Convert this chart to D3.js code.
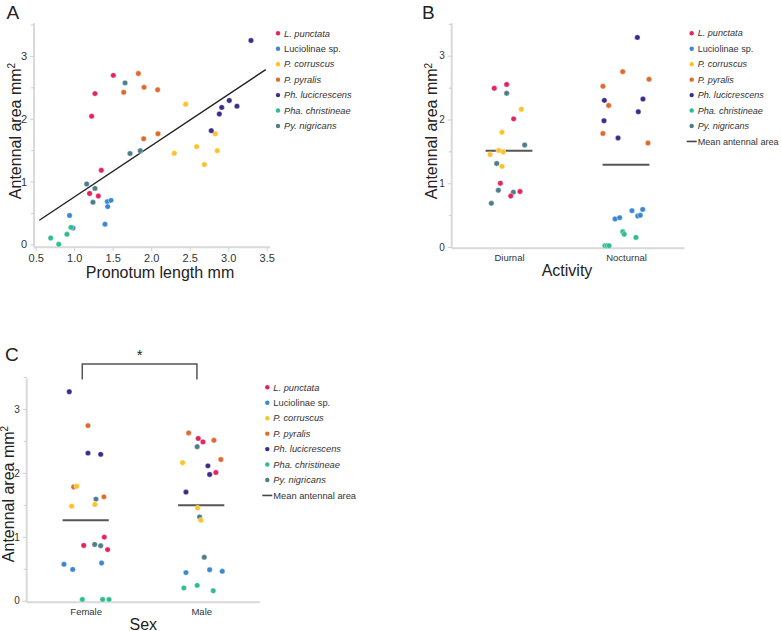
<!DOCTYPE html>
<html><head><meta charset="utf-8">
<script src="https://cdn.jsdelivr.net/npm/d3@7"></script>
<style>
body{margin:0;background:#fff;}
svg{display:block;font-family:"Liberation Sans",Arial,Helvetica,sans-serif;}
</style></head>
<body>
<svg id="chart" width="781" height="631"></svg>
<script>
// ---------- data ----------
const speciesNames = ["L. punctata","Luciolinae sp.","P. corruscus","P. pyralis","Ph. lucicrescens","Pha. christineae","Py. nigricans"];
const speciesItalic = [true,false,true,true,true,true,true];
const speciesColors = ["#e3245e","#3b88d0","#fdc12a","#e06a2e","#3c2b8c","#2ebd93","#4d7d8d"];
const meanLabel = "Mean antennal area";

// Panel A: pronotum length vs antennal area
const aSpecies  = [0,0,0,0,0,0, 1,1,1,1,1,1, 5,5,5,5, 3,3,3,3,3,3, 6,6,6,6,6,6, 2,2,2,2,2,2, 4,4,4,4,4,4];
const aPronotum = [1.508,1.27,1.227,1.352,1.20,1.313, 0.94,0.984,1.40,1.43,1.478,1.435, 0.695,0.80,0.906,0.958,
                   1.833,1.907,1.643,2.084,1.902,2.088, 1.66,1.725,1.858,1.162,1.27,1.244,
                   2.448,2.30,2.59,2.69,2.832,2.858, 3.296,2.78,2.885,2.916,3.014,3.114];
const aArea     = [2.69,2.40,2.04,1.18,0.81,0.77, 0.46,0.26,0.32,0.68,0.70,0.60, 0.10,0.0,0.16,0.27,
                   2.72,2.50,2.42,2.46,1.68,1.76, 2.57,1.445,1.49,0.96,0.89,0.67,
                   2.23,1.45,1.556,1.27,1.76,1.49, 3.245,1.81,2.076,2.18,2.29,2.20];
const aFitX = [0.547, 3.487];
const aFitSlope = 0.816, aFitIntercept = -0.064;
const aXTicks = [0.5,1.0,1.5,2.0,2.5,3.0,3.5];

// Panel B: activity
const bCategories = ["Diurnal","Nocturnal"];
const bGroup   = [0,0,0,0,0,0,0,0,0,0,0,0,0,0,0,0,0,0,
                  1,1,1,1,1,1,1,1,1,1,1,1, 1,1,1,1,1,1, 1,1,1,1,1,1];
const bSpecies = [0,0,6,2,0,2,6,2,2,2,6,2,0,6,6,0,0,6,
                  4,3,3,3,4,4,3,4,4,3,4,3, 1,1,1,1,1,1, 5,5,5,5,5,5];
const bArea    = [2.49,2.55,2.41,2.16,2.01,1.80,1.60,1.515,1.49,1.45,1.31,1.265,1.00,0.89,0.86,0.87,0.80,0.685,
                  3.287,2.75,2.63,2.52,2.30,2.32,2.22,2.12,1.98,1.78,1.71,1.63, 0.44,0.46,0.57,0.486,0.497,0.59, 0.24,0.20,0.15,0.02,0.02,0.02];
const bJitter  = [-0.126,-0.020,-0.020,0.105,0.040,-0.060,0.134,-0.088,-0.049,-0.162,-0.105,-0.060,-0.074,-0.091,0.037,0.094,0.015,-0.151,
                  0.097,-0.028,0.197,-0.197,-0.185,0.145,-0.148,0.105,-0.188,-0.197,-0.068,0.188, -0.094,-0.054,0.051,0.10,0.122,0.143, -0.028,-0.015,0.085,-0.18,-0.162,-0.145];
const bMeans   = [1.51, 1.29];

// Panel C: sex
const cCategories = ["Female","Male"];
const cGroup   = [0,0,0,0,0,0,0,0,0,0,0,0,0,0,0,0,0,0,0,0,0,
                  1,1,1,1,1,1,1,1,1,1,1,1,1,1,1,1,1,1,1,1,1];
const cSpecies = [4,3,4,4,3,2,6,3,2,2,0,0,6,6,0,1,1,1,5,5,5,
                  3,0,0,3,6,3,2,4,4,0,4,2,6,2,6,1,1,1,5,5,5];
const cArea    = [3.27,2.74,2.31,2.29,1.78,1.79,1.59,1.625,1.48,1.506,0.995,0.865,0.88,0.86,0.80,0.57,0.49,0.59,0.02,0.02,0.02,
                  2.625,2.54,2.485,2.51,2.41,2.21,2.16,2.11,1.975,2.006,1.70,1.45,1.31,1.26,0.68,0.44,0.485,0.46,0.20,0.24,0.155];
const cJitter  = [-0.142,0.020,0.020,0.130,-0.104,-0.078,0.089,0.158,-0.121,0.080,0.161,-0.017,0.078,0.130,0.190,-0.188,-0.112,0.138,-0.029,0.147,0.202,
                  -0.109,-0.026,0.015,0.110,-0.035,0.170,-0.161,0.058,0.073,0.127,-0.132,-0.031,-0.014,-0.003,0.026,-0.132,0.073,0.182,-0.150,-0.035,0.104];
const cMeans   = [1.26, 1.495];
const cSignif  = "*";

const yTicks = [0,0.5,1,1.5,2,2.5,3,3.5];
const yLabelMain = "Antennal area mm", yLabelSup = "2";

// ---------- drawing ----------
const svg = d3.select("#chart");
const AXIS_COL = "#d9d9d9", TEXT_COL = "#333";
const R = 2.7;

function styleAxis(g, fontSize){
  g.select(".domain").attr("stroke", AXIS_COL).attr("stroke-width", 2);
  g.selectAll(".tick line").attr("stroke", "#cfcfcf").attr("stroke-width", 1);
  g.selectAll(".tick text").attr("fill", TEXT_COL).style("font-size", fontSize+"px").attr("font-family","Liberation Sans, Arial, sans-serif");
}
function yAxis(g, y, fontSize){
  g.call(d3.axisLeft(y).tickValues(yTicks.filter(v=>v<=3.5)).tickSize(4).tickPadding(3).tickSizeOuter(0)
    .tickFormat(d => Number.isInteger(d) ? d3.format("d")(d) : ""));
  g.selectAll(".tick").filter(d => !Number.isInteger(d)).select("line").attr("x2",-3);
  styleAxis(g, fontSize);
}
function yTitle(x, yc){
  const t = svg.append("text").attr("transform",`translate(${x},${yc}) rotate(-90)`)
    .attr("text-anchor","middle").attr("dy","0.35em").attr("fill","#222").style("font-size","16px");
  t.append("tspan").text(yLabelMain);
  t.append("tspan").attr("dy","-0.55em").style("font-size","10px").text(yLabelSup);
}
function panelLetter(txt, x, y){
  svg.append("text").attr("x",x).attr("y",y).attr("fill","#222").style("font-size","19px").text(txt);
}
function legend(x0, y0, withMean, fs){
  const g = svg.append("g");
  const step = 15.45;
  speciesNames.forEach((n,i)=>{
    g.append("circle").attr("cx",x0).attr("cy",y0+i*step).attr("r",2.2).attr("fill",speciesColors[i]);
    g.append("text").attr("x",x0+6).attr("y",y0+i*step).attr("dy","0.35em")
      .attr("fill",TEXT_COL).style("font-size",fs+"px").style("font-style", speciesItalic[i]?"italic":"normal").text(n);
  });
  if(withMean){
    const yy = y0+7*step;
    g.append("line").attr("x1",x0-5).attr("x2",x0+5).attr("y1",yy).attr("y2",yy).attr("stroke","#444").attr("stroke-width",1.6);
    g.append("text").attr("x",x0+6).attr("y",yy).attr("dy","0.35em").attr("fill",TEXT_COL).style("font-size",fs+"px").text(meanLabel);
  }
}
function dots(g, xs, ys, sp){
  g.selectAll("circle").data(xs.map((x,i)=>({x, y:ys[i], s:sp[i]}))).join("circle")
    .attr("cx",d=>d.x).attr("cy",d=>d.y).attr("r",R).attr("fill",d=>speciesColors[d.s])
    .attr("stroke","#fff").attr("stroke-opacity",0.6).attr("stroke-width",0.6);
}

// ----- Panel A -----
{
  const x = d3.scaleLinear().domain([0.5,3.5]).range([35.7,266.7]);
  const y = d3.scaleLinear().domain([0,3]).range([244.3,55.9]);
  const axisY = 247.3, axisX = 34;
  const gx = svg.append("g").attr("transform",`translate(0,${axisY})`)
    .call(d3.axisBottom(x).tickValues(aXTicks).tickSize(4).tickPadding(3).tickFormat(d3.format(".1f")).tickSizeOuter(0));
  gx.select(".domain").attr("d",`M${axisX},0H${x(3.545)}`);
  styleAxis(gx, 11);
  const gy = svg.append("g").attr("transform",`translate(${axisX},0)`);
  yAxis(gy, y, 11);
  gy.select(".domain").attr("d",`M0,${y(3.52)}V${axisY}`);
  svg.append("line").attr("x1",x(aFitX[0])).attr("y1",y(aFitIntercept+aFitSlope*aFitX[0]))
    .attr("x2",x(aFitX[1])).attr("y2",y(aFitIntercept+aFitSlope*aFitX[1]))
    .attr("stroke","#222").attr("stroke-width",1.4);
  dots(svg.append("g"), aPronotum.map(v=>x(v)), aArea.map(v=>y(v)), aSpecies);
  svg.append("text").attr("x",160).attr("y",277.5).attr("text-anchor","middle").attr("fill","#222").style("font-size","16px").text("Pronotum length mm");
  yTitle(15, 131);
  panelLetter("A", 6.5, 18.5);
  legend(278, 33.3, false, 9.3);
}

// ----- Panel B -----
{
  const x = d3.scalePoint().domain(bCategories).range([450.5,684.5]).padding(0.5);
  const y = d3.scaleLinear().domain([0,3]).range([247,55.7]);
  const axisY = 248.3, axisX = 451.7;
  const gx = svg.append("g").attr("transform",`translate(0,${axisY})`)
    .call(d3.axisBottom(x).tickSize(0).tickPadding(6).tickSizeOuter(0));
  gx.select(".domain").attr("d",`M${axisX},0H684.5`);
  styleAxis(gx, 9.5);
  const gy = svg.append("g").attr("transform",`translate(${axisX},0)`);
  yAxis(gy, y, 10);
  gy.select(".domain").attr("d",`M0,${y(3.51)}V${axisY}`);
  const step = x.step();
  bMeans.forEach((m,i)=>{
    const cx = x(bCategories[i]);
    svg.append("line").attr("x1",cx-0.2*step).attr("x2",cx+0.2*step).attr("y1",y(m)).attr("y2",y(m))
      .attr("stroke","#555").attr("stroke-width",2);
  });
  dots(svg.append("g"), bArea.map((v,i)=>x(bCategories[bGroup[i]])+bJitter[i]*step), bArea.map(v=>y(v)), bSpecies);
  svg.append("text").attr("x",567).attr("y",276).attr("text-anchor","middle").attr("fill","#222").style("font-size","16px").text("Activity");
  yTitle(431.7, 131);
  panelLetter("B", 422, 18.5);
  legend(691.7, 33.3, true, 9.1);
}

// ----- Panel C -----
{
  const x = d3.scalePoint().domain(cCategories).range([27.9,259]).padding(0.5);
  const y = d3.scaleLinear().domain([0,3]).range([600.7,409]);
  const axisY = 602.3, axisX = 26.7;
  const gx = svg.append("g").attr("transform",`translate(0,${axisY})`)
    .call(d3.axisBottom(x).tickSize(0).tickPadding(6).tickSizeOuter(0));
  gx.select(".domain").attr("d",`M${axisX},0H260`);
  styleAxis(gx, 9.5);
  const gy = svg.append("g").attr("transform",`translate(${axisX},0)`);
  yAxis(gy, y, 10);
  gy.select(".domain").attr("d",`M0,${y(3.48)}V${axisY}`);
  const step = x.step();
  cMeans.forEach((m,i)=>{
    const cx = x(cCategories[i]);
    svg.append("line").attr("x1",cx-0.2*step).attr("x2",cx+0.2*step).attr("y1",y(m)).attr("y2",y(m))
      .attr("stroke","#555").attr("stroke-width",2);
  });
  dots(svg.append("g"), cArea.map((v,i)=>x(cCategories[cGroup[i]])+cJitter[i]*step), cArea.map(v=>y(v)), cSpecies);
  const bx1 = x(cCategories[0]) - 3.4, bx2 = x(cCategories[1]) - 4.3;
  svg.append("path").attr("d",`M${bx1},379.5V364H${bx2}V379.5`).attr("fill","none").attr("stroke","#555").attr("stroke-width",1.5);
  svg.append("text").attr("x",(bx1+bx2)/2).attr("y",360).attr("text-anchor","middle").attr("fill","#222").style("font-size","15px").text(cSignif);
  svg.append("text").attr("x",143.3).attr("y",629.5).attr("text-anchor","middle").attr("fill","#222").style("font-size","16px").text("Sex");
  yTitle(8.3, 494);
  panelLetter("C", 5, 361);
  legend(267.3, 387.3, true, 9.3);
}
</script>
</body></html>
